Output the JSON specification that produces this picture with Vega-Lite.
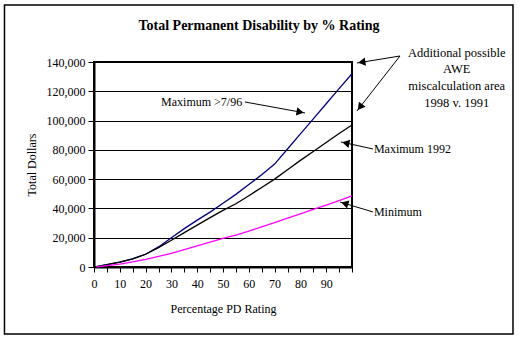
{
  "$schema": "https://vega.github.io/schema/vega-lite/v6.json",
  "width": 258,
  "height": 205,
  "autosize": {"type": "none"},
  "padding": {"left": 94, "top": 62, "right": 167, "bottom": 73},
  "background": "white",
  "title": {
    "text": "Total Permanent Disability by % Rating",
    "font": "Liberation Serif",
    "fontSize": 14,
    "fontWeight": "bold",
    "color": "black",
    "anchor": "middle",
    "frame": "group",
    "dx": 36,
    "offset": -29
  },
  "config": {
    "view": {"stroke": "black", "strokeWidth": 2},
    "axis": {
      "labelFont": "Liberation Serif",
      "titleFont": "Liberation Serif",
      "labelFontSize": 12,
      "titleFontSize": 12,
      "labelColor": "black",
      "titleColor": "black",
      "titleFontWeight": "normal",
      "domainColor": "black",
      "tickColor": "black"
    }
  },
  "datasets": {
    "series": [
      {"rating": 1, "dollars": 200, "series": "Maximum >7/96"},
      {"rating": 5, "dollars": 1600, "series": "Maximum >7/96"},
      {"rating": 10, "dollars": 3300, "series": "Maximum >7/96"},
      {"rating": 15, "dollars": 5500, "series": "Maximum >7/96"},
      {"rating": 20, "dollars": 8700, "series": "Maximum >7/96"},
      {"rating": 25, "dollars": 13700, "series": "Maximum >7/96"},
      {"rating": 30, "dollars": 20000, "series": "Maximum >7/96"},
      {"rating": 35, "dollars": 26200, "series": "Maximum >7/96"},
      {"rating": 40, "dollars": 32000, "series": "Maximum >7/96"},
      {"rating": 45, "dollars": 37500, "series": "Maximum >7/96"},
      {"rating": 50, "dollars": 43500, "series": "Maximum >7/96"},
      {"rating": 55, "dollars": 49600, "series": "Maximum >7/96"},
      {"rating": 60, "dollars": 56300, "series": "Maximum >7/96"},
      {"rating": 65, "dollars": 63000, "series": "Maximum >7/96"},
      {"rating": 70, "dollars": 70300, "series": "Maximum >7/96"},
      {"rating": 75, "dollars": 80600, "series": "Maximum >7/96"},
      {"rating": 80, "dollars": 90900, "series": "Maximum >7/96"},
      {"rating": 85, "dollars": 101200, "series": "Maximum >7/96"},
      {"rating": 90, "dollars": 111500, "series": "Maximum >7/96"},
      {"rating": 95, "dollars": 121800, "series": "Maximum >7/96"},
      {"rating": 100, "dollars": 132000, "series": "Maximum >7/96"},
      {"rating": 1, "dollars": 200, "series": "Maximum 1992"},
      {"rating": 5, "dollars": 1600, "series": "Maximum 1992"},
      {"rating": 10, "dollars": 3300, "series": "Maximum 1992"},
      {"rating": 15, "dollars": 5500, "series": "Maximum 1992"},
      {"rating": 20, "dollars": 8700, "series": "Maximum 1992"},
      {"rating": 25, "dollars": 13200, "series": "Maximum 1992"},
      {"rating": 30, "dollars": 18300, "series": "Maximum 1992"},
      {"rating": 35, "dollars": 23500, "series": "Maximum 1992"},
      {"rating": 40, "dollars": 28600, "series": "Maximum 1992"},
      {"rating": 45, "dollars": 33700, "series": "Maximum 1992"},
      {"rating": 50, "dollars": 38700, "series": "Maximum 1992"},
      {"rating": 55, "dollars": 43200, "series": "Maximum 1992"},
      {"rating": 60, "dollars": 48700, "series": "Maximum 1992"},
      {"rating": 65, "dollars": 54300, "series": "Maximum 1992"},
      {"rating": 70, "dollars": 60000, "series": "Maximum 1992"},
      {"rating": 75, "dollars": 66400, "series": "Maximum 1992"},
      {"rating": 80, "dollars": 72800, "series": "Maximum 1992"},
      {"rating": 85, "dollars": 78900, "series": "Maximum 1992"},
      {"rating": 90, "dollars": 85000, "series": "Maximum 1992"},
      {"rating": 95, "dollars": 91200, "series": "Maximum 1992"},
      {"rating": 100, "dollars": 97000, "series": "Maximum 1992"},
      {"rating": 1, "dollars": 100, "series": "Minimum"},
      {"rating": 5, "dollars": 900, "series": "Minimum"},
      {"rating": 10, "dollars": 2000, "series": "Minimum"},
      {"rating": 15, "dollars": 3500, "series": "Minimum"},
      {"rating": 20, "dollars": 5200, "series": "Minimum"},
      {"rating": 25, "dollars": 7200, "series": "Minimum"},
      {"rating": 30, "dollars": 9300, "series": "Minimum"},
      {"rating": 35, "dollars": 11900, "series": "Minimum"},
      {"rating": 40, "dollars": 14500, "series": "Minimum"},
      {"rating": 45, "dollars": 17000, "series": "Minimum"},
      {"rating": 50, "dollars": 19600, "series": "Minimum"},
      {"rating": 55, "dollars": 21800, "series": "Minimum"},
      {"rating": 60, "dollars": 24500, "series": "Minimum"},
      {"rating": 65, "dollars": 27400, "series": "Minimum"},
      {"rating": 70, "dollars": 30300, "series": "Minimum"},
      {"rating": 75, "dollars": 33300, "series": "Minimum"},
      {"rating": 80, "dollars": 36300, "series": "Minimum"},
      {"rating": 85, "dollars": 39300, "series": "Minimum"},
      {"rating": 90, "dollars": 42200, "series": "Minimum"},
      {"rating": 95, "dollars": 45300, "series": "Minimum"},
      {"rating": 100, "dollars": 48500, "series": "Minimum"}
    ],
    "frame": [
      {"rating": -34.7, "rating2": 162.4, "dollars": -45750, "dollars2": 178900}
    ],
    "arrows": [
      {"rating": 118.6, "dollars": 144100, "rating2": 101.9, "dollars2": 139300},
      {"rating": 118.6, "dollars": 144100, "rating2": 101.9, "dollars2": 106500},
      {"rating": 108.1, "dollars": 80600, "rating2": 95.7, "dollars2": 85400},
      {"rating": 108.1, "dollars": 37600, "rating2": 95.3, "dollars2": 44400},
      {"rating": 58.5, "dollars": 112700, "rating2": 81.8, "dollars2": 105200}
    ],
    "heads": [
      {"rating": 103.8, "dollars": 139800, "angle": 261},
      {"rating": 103.1, "dollars": 109200, "angle": 218},
      {"rating": 97.6, "dollars": 84600, "angle": 282},
      {"rating": 97.2, "dollars": 43400, "angle": 287},
      {"rating": 79.9, "dollars": 105800, "angle": 100}
    ],
    "leftLabels": [
      {"rating": 26, "dollars": 112900, "label": "Maximum >7/96"},
      {"rating": 108.5, "dollars": 80400, "label": "Maximum 1992"},
      {"rating": 108.5, "dollars": 37400, "label": "Minimum"}
    ],
    "centerLabels": [
      {"rating": 140.6, "dollars": 146300, "label": "Additional possible"},
      {"rating": 140.6, "dollars": 135000, "label": "AWE"},
      {"rating": 140.6, "dollars": 123600, "label": "miscalculation area"},
      {"rating": 140.6, "dollars": 112200, "label": "1998 v. 1991"}
    ]
  },
  "encoding": {
    "x": {
      "field": "rating",
      "type": "quantitative",
      "scale": {"domain": [0, 100], "nice": false},
      "axis": {
        "title": "Percentage PD Rating",
        "values": [0, 5, 10, 15, 20, 25, 30, 35, 40, 45, 50, 55, 60, 65, 70, 75, 80, 85, 90, 95, 100],
        "labelExpr": "datum.value % 10 == 0 && datum.value < 100 ? datum.label : ''",
        "grid": false,
        "tickSize": 5,
        "labelPadding": 6,
        "titlePadding": 14,
        "domainWidth": 2,
        "labelFlush": false,
        "labelOverlap": false
      }
    },
    "y": {
      "field": "dollars",
      "type": "quantitative",
      "scale": {"domain": [0, 140000], "nice": false},
      "axis": {
        "title": "Total Dollars",
        "values": [0, 20000, 40000, 60000, 80000, 100000, 120000, 140000],
        "labelExpr": "format(datum.value, ',.0f')",
        "grid": true,
        "gridColor": "black",
        "gridOpacity": 1,
        "gridWidth": 1,
        "tickSize": 6,
        "labelPadding": 3,
        "titlePadding": 8,
        "domainWidth": 2
      }
    }
  },
  "layer": [
    {
      "data": {"name": "series"},
      "mark": {"type": "line", "strokeWidth": 1.3},
      "encoding": {
        "color": {
          "field": "series",
          "type": "nominal",
          "scale": {"domain": ["Maximum >7/96", "Maximum 1992", "Minimum"], "range": ["#000080", "#000000", "#ff00ff"]},
          "legend": null
        }
      }
    },
    {
      "data": {"name": "frame"},
      "mark": {"type": "rect", "filled": false, "stroke": "black", "strokeWidth": 1.5},
      "encoding": {
        "x2": {"field": "rating2"},
        "y2": {"field": "dollars2"}
      }
    },
    {
      "data": {"name": "arrows"},
      "mark": {"type": "rule", "color": "black", "strokeWidth": 1},
      "encoding": {
        "x2": {"field": "rating2"},
        "y2": {"field": "dollars2"}
      }
    },
    {
      "data": {"name": "heads"},
      "mark": {"type": "point", "shape": "triangle-up", "filled": true, "color": "black", "size": 70, "opacity": 1},
      "encoding": {
        "angle": {"field": "angle", "type": "quantitative", "scale": null}
      }
    },
    {
      "data": {"name": "leftLabels"},
      "mark": {"type": "text", "align": "left", "baseline": "middle", "font": "Liberation Serif", "fontSize": 12, "color": "black"},
      "encoding": {
        "text": {"field": "label"}
      }
    },
    {
      "data": {"name": "centerLabels"},
      "mark": {"type": "text", "align": "center", "baseline": "middle", "font": "Liberation Serif", "fontSize": 12.5, "color": "black"},
      "encoding": {
        "text": {"field": "label"}
      }
    }
  ]
}
